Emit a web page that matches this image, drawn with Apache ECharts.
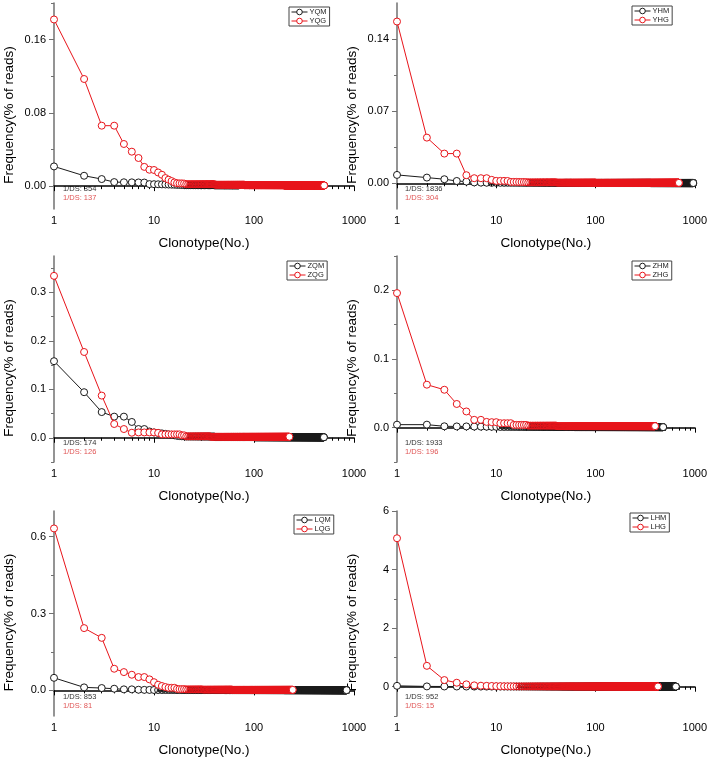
<!DOCTYPE html>
<html><head><meta charset="utf-8">
<script src="https://cdn.jsdelivr.net/npm/echarts@6/dist/echarts.min.js"></script>
<style>html,body{margin:0;padding:0;background:#fff}#c{width:710px;height:762px}</style>
</head><body><div id="c"></div>
<script>
// ---------------- data ----------------
const xMinorTicks = [2,3,4,5,6,7,8,9,20,30,40,50,60,70,80,90,200,300,400,500,600,700,800,900];
const seriesNames = [['YQM','YQG'],['YHM','YHG'],['ZQM','ZQG'],['ZHM','ZHG'],['LQM','LQG'],['LHM','LHG']];
const dsM = [854, 1836, 174, 1933, 853, 952];
const dsG = [137, 304, 126, 196, 81, 15];

// each series: explicit leading values, then tail as [value, count] runs
const yqmHead = [0.0215,0.0113,0.0077,0.0044,0.0042,0.0041,0.0040,0.0039,0.0022,0.0021,0.0020,0.0019,0.0018,0.0017,0.0016,0.0015,0.0014,0.0013,0.0012,0.0012];
const yqmTail = [[0.0010,20],[0.0008,30]];
const yqgHead = [0.182,0.117,0.066,0.066,0.046,0.0376,0.0307,0.021,0.0179,0.0176,0.0149,0.0124,0.0088,0.007,0.0055,0.004,0.0032,0.003,0.003,0.0028];
const yqgTail = [[0.0022,20],[0.0015,40],[0.0010,120],[0.0007,303]];

const yhmHead = [0.0081,0.0055,0.0039,0.0022,0.0016,0.0008,0.0006,0.0005];
const yhmTail = [[0.0004,50],[0.0003,300],[0.0002,608]];
const yhgHead = [0.157,0.0443,0.0288,0.0288,0.0078,0.0049,0.0049,0.0049,0.0033,0.0023,0.0023,0.0023,0.0022,0.0013,0.0013,0.0013,0.0012,0.0012,0.0012,0.0011];
const yhgTail = [[0.0009,20],[0.0006,60],[0.0004,592]];

const zqmHead = [0.158,0.094,0.053,0.0436,0.0436,0.0326,0.018,0.018,0.013,0.011,0.010,0.009,0.008,0.007,0.006,0.005,0.004,0.0035,0.003,0.003];
const zqmTail = [[0.0025,20],[0.0015,60],[0.001,400]];
const zqgHead = [0.334,0.177,0.087,0.0284,0.018,0.0104,0.011,0.011,0.011,0.011,0.010,0.007,0.007,0.007,0.007,0.007,0.007,0.007,0.005,0.005];
const zqgTail = [[0.003,16],[0.002,190]];

const zhmHead = [0.0044,0.0044,0.002,0.0018,0.0018,0.0016,0.0015,0.0014,0.0013,0.0012];
const zhmTail = [[0.001,50],[0.0008,420]];
const zhgHead = [0.196,0.0626,0.0552,0.0345,0.0236,0.0114,0.0114,0.0084,0.008,0.008,0.0065,0.0065,0.0065,0.0065,0.004,0.004,0.004,0.004,0.004,0.004];
const zhgTail = [[0.003,20],[0.0022,358]];

const lqmHead = [0.049,0.0117,0.0091,0.0065,0.004,0.004,0.0025,0.002,0.0018,0.0015];
const lqmTail = [[0.0013,40],[0.001,150],[0.0008,643]];
const lqgHead = [0.632,0.243,0.205,0.0844,0.0714,0.061,0.052,0.052,0.043,0.032,0.022,0.017,0.013,0.01,0.01,0.01,0.006,0.005,0.005,0.005];
const lqgTail = [[0.004,10],[0.003,30],[0.002,184]];

const lhmHead = [0.03,0.01,0.008,0.007,0.006];
const lhmTail = [[0.005,40],[0.004,600]];
const lhgHead = [5.07,0.713,0.227,0.136,0.081,0.046,0.035,0.03,0.025,0.02,0.018,0.016,0.015,0.014,0.013];
const lhgTail = [[0.012,15],[0.01,30],[0.008,366]];

// y-axis tick labels per panel
const yTicks1 = [0, 0.08, 0.16], yMinor1 = [0.04, 0.12, 0.2];
const yTicks2 = [0, 0.07, 0.14], yMinor2 = [0.035, 0.105];
const yTicks3 = [0, 0.1, 0.2, 0.3], yMinor3 = [-0.05, 0.05, 0.15, 0.25, 0.35];
const yTicks4 = [0, 0.1, 0.2], yMinor4 = [-0.05, 0.05, 0.15, 0.25];
const yTicks5 = [0, 0.3, 0.6], yMinor5 = [0.15, 0.45];
const yTicks6 = [0, 2, 4, 6], yMinor6 = [-1, 1, 3, 5];
const yRanges = [[-0.025,0.2],[-0.025,0.175],[-0.05,0.375],[-0.05,0.25],[-0.1,0.7],[-1,6]];
const yDecimals = [2,2,1,1,1,0];

// ---------------- build ----------------
// head points and the final point get an opaque white fill; dense tail points keep a clear fill
function expand(head, tail){
  const vals = head.slice();
  tail.forEach(([v,n]) => { for (let k=0;k<n;k++) vals.push(v); });
  return vals.map((v,i) => (i < head.length || i === vals.length-1)
    ? {value:[i+1, v], itemStyle:{color:'#fff'}}
    : [i+1, v]);
}
const mData = [expand(yqmHead,yqmTail),expand(yhmHead,yhmTail),expand(zqmHead,zqmTail),expand(zhmHead,zhmTail),expand(lqmHead,lqmTail),expand(lhmHead,lhmTail)];
const gData = [expand(yqgHead,yqgTail),expand(yhgHead,yhgTail),expand(zqgHead,zqgTail),expand(zhgHead,zhgTail),expand(lqgHead,lqgTail),expand(lhgHead,lhgTail)];
const yTicks = [yTicks1,yTicks2,yTicks3,yTicks4,yTicks5,yTicks6];
const yMinor = [yMinor1,yMinor2,yMinor3,yMinor4,yMinor5,yMinor6];

const FONT = 'Liberation Sans, Arial, sans-serif';
const BLACK = '#1a1a1a', RED = '#e8141a', GRAYAX = '#707070';
const layout = [
  {left:54, top:3,   h:206, leg:[289,7],   ann:[63,189]},
  {left:397,top:3,   h:206, leg:[632,6],   ann:[405,189]},
  {left:54, top:256, h:206, leg:[287,261], ann:[63,443]},
  {left:397,top:256, h:206, leg:[632,261], ann:[405,443]},
  {left:54, top:511, h:205, leg:[294,515], ann:[63,697]},
  {left:397,top:511, h:205, leg:[630,513], ann:[405,697]}
];

const grid=[], xAxis=[], yAxis=[], series=[], legend=[], graphic=[];
layout.forEach((L,i) => {
  grid.push({left:L.left, top:L.top, width:300, height:L.h, containLabel:false});
  xAxis.push({type:'log', logBase:10, gridIndex:i, min:1, max:1000, position:'bottom',
    axisLine:{show:true, lineStyle:{color:'#000', width:1.5}},
    axisTick:{show:true, length:5, lineStyle:{color:'#000', width:1}},
    axisLabel:{fontSize:11, color:'#000', fontFamily:FONT, margin:6, formatter:v=>String(+(+v).toPrecision(6))},
    splitLine:{show:false},
    name:'Clonotype(No.)', nameLocation:'middle', nameGap:27,
    nameTextStyle:{fontSize:13.5, color:'#000', fontFamily:FONT}});
  xAxis.push({type:'value', gridIndex:i, min:0, max:3, position:'bottom',
    axisLine:{show:false}, axisLabel:{show:false}, splitLine:{show:false},
    axisTick:{show:true, length:3, customValues:xMinorTicks.map(Math.log10), lineStyle:{color:'#000', width:1}}});
  const [ymin,ymax] = yRanges[i];
  const dec = yDecimals[i];
  yAxis.push({type:'value', gridIndex:i, min:ymin, max:ymax, position:'left',
    axisLine:{show:true, lineStyle:{color:GRAYAX, width:1.5}},
    axisTick:{show:true, length:5, customValues:yTicks[i], lineStyle:{color:GRAYAX, width:1}},
    axisLabel:{customValues:yTicks[i], fontSize:11, color:'#000', fontFamily:FONT, margin:8, formatter:v=>(+v).toFixed(dec)},
    splitLine:{show:false},
    name:'Frequency(% of reads)', nameLocation:'middle', nameGap:38,
    nameTextStyle:{fontSize:13.5, color:'#000', fontFamily:FONT, padding:[0,18,0,0]}});
  yAxis.push({type:'value', gridIndex:i, min:ymin, max:ymax, position:'left',
    axisLine:{show:false}, axisLabel:{show:false}, splitLine:{show:false},
    axisTick:{show:true, length:3, customValues:yMinor[i], lineStyle:{color:GRAYAX, width:1}}});
  const names = seriesNames[i];
  [[names[0], mData[i], BLACK, 2],[names[1], gData[i], RED, 3]].forEach(([nm,d,c,z]) => {
    series.push({type:'line', name:nm, data:d, xAxisIndex:2*i, yAxisIndex:2*i,
      symbol:'circle', symbolSize:7, showSymbol:true, showAllSymbol:true, z:z,
      progressive:0, sampling:null,
      itemStyle:{color:'rgba(255,255,255,0)', borderColor:c, borderWidth:1},
      lineStyle:{color:c, width:1}, animation:false, silent:true});
  });
  legend.push({
    data:names.map((n,k)=>({name:n, itemStyle:{color:'#fff', borderColor:k?RED:BLACK, borderWidth:1}, lineStyle:{color:k?RED:BLACK, width:1}})),
    orient:'vertical', left:L.leg[0], top:L.leg[1],
    itemWidth:16, itemHeight:7, itemGap:1, padding:[1,3,1,2],
    borderColor:'#444', borderWidth:1, borderRadius:0,
    textStyle:{fontSize:7.5, color:'#222', fontFamily:FONT, padding:[0,0,0,-3]}, selectedMode:false});
  graphic.push({type:'text', x:L.ann[0], y:L.ann[1], style:{text:'1/DS: '+dsM[i], fill:'#333', fontSize:7.5, fontFamily:FONT, verticalAlign:'middle', align:'left'}});
  graphic.push({type:'text', x:L.ann[0], y:L.ann[1]+9, style:{text:'1/DS: '+dsG[i], fill:'#e05555', fontSize:7.5, fontFamily:FONT, verticalAlign:'middle', align:'left'}});
});

const chart = echarts.init(document.getElementById('c'), null, {renderer:'canvas'});
chart.setOption({animation:false, backgroundColor:'#fff', grid, xAxis, yAxis, series, legend, graphic});
</script></body></html>
